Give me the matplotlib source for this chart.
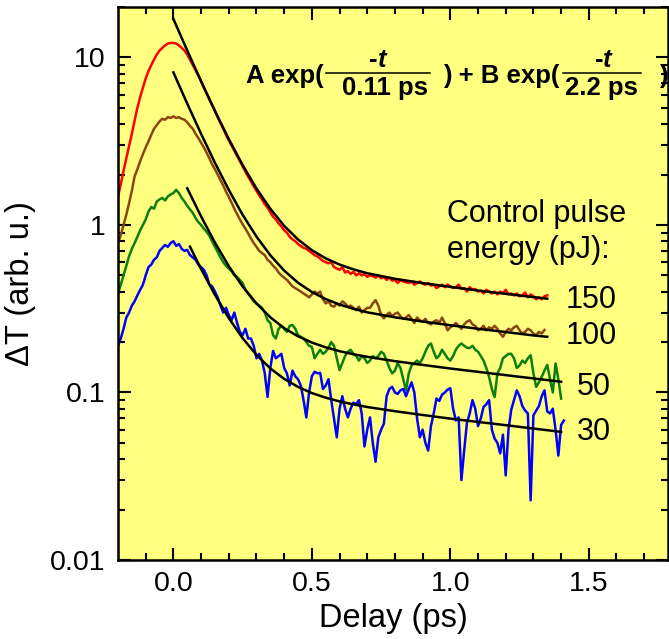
import numpy as np
import matplotlib.pyplot as plt
from matplotlib.lines import Line2D
from matplotlib.ticker import FixedLocator, LogLocator, NullFormatter

plt.rcParams['font.family'] = ['Liberation Sans', 'DejaVu Sans']

# measured traces, sampled every 0.01 ps starting at -0.20 ps
red_150 = [
    1.48, 1.75, 2.1, 2.5, 2.95, 3.5, 4.2, 5.0, 5.8, 6.6, 7.5, 8.3, 9.0, 9.7, 10.4, 11.0, 11.4, 11.8, 12.1, 12.2,
    12.2, 12.1, 11.8, 11.4, 11.0, 10.4, 9.7, 9.0, 8.4, 7.8,
    7.2, 6.6, 6.1, 5.6, 5.2, 4.8, 4.4, 4.05, 3.75, 3.45,
    3.2, 2.98, 2.78, 2.58, 2.40, 2.24, 2.08, 1.94, 1.82, 1.70,
    1.60, 1.50, 1.42, 1.33, 1.27, 1.19, 1.12, 1.08, 1.02, 0.98,
    0.93, 0.90, 0.85, 0.82, 0.80, 0.77, 0.75, 0.73, 0.72, 0.70,
    0.68, 0.66, 0.65, 0.63, 0.61, 0.60, 0.59, 0.60, 0.56, 0.55,
    0.54, 0.56, 0.52, 0.53, 0.51, 0.525, 0.50, 0.515, 0.50, 0.51,
    0.49, 0.50, 0.495, 0.485, 0.50, 0.48, 0.49, 0.47, 0.485, 0.465,
    0.47, 0.45, 0.47, 0.46, 0.455, 0.45, 0.46, 0.44, 0.45, 0.46,
    0.445, 0.44, 0.45, 0.435, 0.44, 0.42, 0.43, 0.44, 0.425, 0.44,
    0.43, 0.42, 0.425, 0.44, 0.415, 0.42, 0.40, 0.425, 0.41, 0.415,
    0.40, 0.405, 0.39, 0.41, 0.40, 0.39, 0.40, 0.385, 0.40, 0.39,
    0.41, 0.385, 0.39, 0.38, 0.39, 0.375, 0.38, 0.395, 0.37, 0.385,
    0.375, 0.36, 0.37, 0.36, 0.375, 0.38,
]
brown_100 = [
    0.78, 0.87, 1.0, 1.15, 1.35, 1.6, 1.95, 2.15, 2.4, 2.65, 2.9, 3.15, 3.45, 3.75, 3.95, 4.15, 4.3, 4.25, 4.4, 4.35,
    4.45, 4.35, 4.4, 4.3, 4.25, 4.1, 3.9, 3.75, 3.5, 3.3,
    3.1, 2.9, 2.7, 2.5, 2.3, 2.15, 2.0, 1.85, 1.72, 1.58,
    1.47, 1.36, 1.25, 1.16, 1.08, 1.01, 0.95, 0.89, 0.83, 0.78,
    0.74, 0.70, 0.68, 0.66, 0.62, 0.60, 0.57, 0.55, 0.52, 0.50,
    0.485, 0.47, 0.45, 0.43, 0.42, 0.41, 0.40, 0.39, 0.38, 0.37,
    0.385, 0.40, 0.39, 0.40, 0.36, 0.34, 0.35, 0.33, 0.325, 0.34,
    0.33, 0.35, 0.34, 0.325, 0.33, 0.32, 0.31, 0.325, 0.30, 0.31,
    0.32, 0.32, 0.34, 0.356, 0.33, 0.29, 0.277, 0.29, 0.30, 0.285,
    0.295, 0.30, 0.285, 0.275, 0.28, 0.29, 0.275, 0.26, 0.28, 0.27,
    0.265, 0.275, 0.26, 0.255, 0.265, 0.27, 0.26, 0.28, 0.26, 0.235,
    0.245, 0.25, 0.26, 0.25, 0.24, 0.255, 0.265, 0.27, 0.255, 0.25,
    0.235, 0.24, 0.25, 0.235, 0.245, 0.24, 0.25, 0.24, 0.225, 0.215,
    0.23, 0.24, 0.235, 0.245, 0.25, 0.235, 0.225, 0.23, 0.24, 0.235,
    0.225, 0.22, 0.23, 0.225, 0.236,
]
green_50 = [
    0.39, 0.44, 0.50, 0.57, 0.65, 0.72, 0.78, 0.85, 0.93, 1.0, 1.08, 1.2, 1.28, 1.25, 1.38, 1.42, 1.45, 1.40, 1.48, 1.52,
    1.55, 1.62, 1.55, 1.45, 1.38, 1.30, 1.24, 1.18, 1.10, 1.04,
    1.00, 0.95, 0.91, 0.86, 0.80, 0.74, 0.69, 0.64, 0.60, 0.57,
    0.55, 0.53, 0.50, 0.49, 0.47, 0.45, 0.41, 0.39, 0.37, 0.35,
    0.34, 0.33, 0.32, 0.30, 0.27, 0.26, 0.22, 0.21, 0.24, 0.25,
    0.24, 0.23, 0.25, 0.253, 0.24, 0.22, 0.215, 0.21, 0.20, 0.19,
    0.187, 0.16, 0.17, 0.18, 0.17, 0.175, 0.185, 0.20, 0.19, 0.16,
    0.136, 0.15, 0.165, 0.175, 0.18, 0.17, 0.165, 0.155, 0.165, 0.16,
    0.15, 0.155, 0.165, 0.16, 0.165, 0.175, 0.17, 0.155, 0.14, 0.13,
    0.135, 0.15, 0.14, 0.12, 0.103, 0.13, 0.145, 0.15, 0.155, 0.15,
    0.16, 0.175, 0.19, 0.196, 0.175, 0.16, 0.166, 0.18, 0.17, 0.16,
    0.155, 0.165, 0.18, 0.19, 0.196, 0.19, 0.185, 0.184, 0.19, 0.18,
    0.175, 0.165, 0.155, 0.14, 0.124, 0.105, 0.094, 0.13, 0.14, 0.16,
    0.165, 0.17, 0.17, 0.16, 0.14, 0.145, 0.155, 0.15, 0.16, 0.167,
    0.13, 0.108, 0.115, 0.124, 0.135, 0.146, 0.12, 0.10, 0.149, 0.12,
    0.092,
]
blue_30 = [
    0.19, 0.21, 0.24, 0.28, 0.30, 0.33, 0.35, 0.38, 0.41, 0.44, 0.50, 0.56, 0.58, 0.62, 0.64, 0.70, 0.73, 0.76, 0.74, 0.78,
    0.80, 0.75, 0.77, 0.72, 0.70, 0.71, 0.66, 0.64, 0.62, 0.58,
    0.56, 0.54, 0.50, 0.44, 0.43, 0.40, 0.37, 0.33, 0.30, 0.32,
    0.29, 0.27, 0.30, 0.26, 0.23, 0.22, 0.24, 0.21, 0.21, 0.19,
    0.16, 0.17, 0.155, 0.13, 0.094, 0.14, 0.177, 0.16, 0.165, 0.17,
    0.14, 0.13, 0.11, 0.135, 0.125, 0.12, 0.11, 0.09, 0.071, 0.10,
    0.125, 0.133, 0.13, 0.131, 0.105, 0.11, 0.12, 0.09, 0.07, 0.054,
    0.08, 0.095, 0.08, 0.071, 0.08, 0.087, 0.085, 0.09, 0.075, 0.0476,
    0.06, 0.071, 0.05, 0.0386, 0.054, 0.06, 0.065, 0.095, 0.105, 0.108,
    0.10, 0.098, 0.103, 0.105, 0.095, 0.105, 0.115, 0.10, 0.07, 0.054,
    0.06, 0.05, 0.045, 0.063, 0.075, 0.092, 0.089, 0.097, 0.10, 0.104,
    0.106, 0.08, 0.068, 0.071, 0.03, 0.045, 0.066, 0.075, 0.09, 0.08,
    0.063, 0.07, 0.082, 0.085, 0.09, 0.06, 0.053, 0.05, 0.0433, 0.056,
    0.032, 0.06, 0.079, 0.09, 0.103, 0.095, 0.083, 0.078, 0.075, 0.0227,
    0.073, 0.078, 0.083, 0.095, 0.103, 0.077, 0.075, 0.08, 0.06, 0.042,
    0.064, 0.068,
]

# biexponential fits
fit_t_hi = [0.0, 0.05, 0.1, 0.15, 0.2, 0.25, 0.3, 0.35, 0.4, 0.45, 0.5, 0.55, 0.6, 0.65, 0.7,
            0.8, 0.9, 1.0, 1.1, 1.2, 1.3, 1.35]
fit_red = [16.97, 11.0, 7.21, 4.79, 3.26, 2.28, 1.65, 1.25, 0.988, 0.819, 0.707, 0.632, 0.580, 0.543, 0.515,
           0.477, 0.450, 0.427, 0.406, 0.388, 0.371, 0.363]
fit_brown = [8.14, 5.30, 3.50, 2.35, 1.62, 1.15, 0.852, 0.659, 0.534, 0.452, 0.398, 0.361, 0.335, 0.316, 0.301,
             0.281, 0.265, 0.252, 0.240, 0.2295, 0.219, 0.215]
fit_t_green = [0.05, 0.1, 0.15, 0.2, 0.25, 0.3, 0.35, 0.4, 0.45, 0.5, 0.55, 0.6, 0.65, 0.7,
               0.8, 0.9, 1.0, 1.1, 1.2, 1.3, 1.4]
fit_green = [1.655, 1.124, 0.785, 0.568, 0.429, 0.340, 0.281, 0.242, 0.2165, 0.1986, 0.186, 0.1764, 0.1692, 0.1632,
             0.1538, 0.1461, 0.139, 0.1328, 0.1269, 0.1213, 0.1159]
fit_t_blue = [0.06, 0.1, 0.15, 0.2, 0.25, 0.3, 0.35, 0.4, 0.45, 0.5, 0.55, 0.6, 0.65, 0.7,
              0.8, 0.9, 1.0, 1.1, 1.2, 1.3, 1.4]
fit_blue = [0.742, 0.546, 0.383, 0.278, 0.211, 0.1676, 0.1392, 0.1206, 0.108, 0.0992, 0.0931, 0.0884, 0.0849, 0.0819,
            0.0773, 0.0734, 0.0698, 0.0667, 0.0638, 0.0609, 0.0582]

energies = ["150", "100", "50", "30"]
colors = ["#ff0000", "#8b4513", "#0a800a", "#0000ff"]

W, H = 669, 639
fig = plt.figure(figsize=(W / 100, H / 100), dpi=100)
ax = fig.add_axes([118 / W, 1 - 560 / H, (668 - 118) / W, (560 - 7) / H])
ax.set_facecolor("#ffff80")

for vals, c in zip([red_150, brown_100, green_50, blue_30], colors):
    t = -0.2 + 0.01 * np.arange(len(vals))
    ax.plot(t, vals, color=c, lw=1.8)

ax.plot(fit_t_hi, fit_red, color="k", lw=1.8)
ax.plot(fit_t_hi, fit_brown, color="k", lw=1.8)
ax.plot(fit_t_green, fit_green, color="k", lw=1.8)
ax.plot(fit_t_blue, fit_blue, color="k", lw=1.8)

ax.set_yscale("log")
ax.set_xlim(-0.2, 1.786)
ax.set_ylim(0.01, 20)
ax.xaxis.set_major_locator(FixedLocator([0.0, 0.5, 1.0, 1.5]))
ax.xaxis.set_minor_locator(FixedLocator(np.arange(-0.1, 1.75, 0.1)))
ax.set_xticklabels(["0.0", "0.5", "1.0", "1.5"])
ax.yaxis.set_major_locator(FixedLocator([0.01, 0.1, 1, 10]))
ax.yaxis.set_minor_locator(LogLocator(base=10, subs=np.arange(2, 10)))
ax.yaxis.set_minor_formatter(NullFormatter())
ax.set_yticklabels(["0.01", "0.1", "1", "10"])
ax.tick_params(which="both", direction="in", top=True, right=True, width=1.5, labelsize=20.5)
ax.tick_params(which="major", length=9)
ax.tick_params(which="minor", length=5)
ax.tick_params(axis="y", pad=9)
ax.tick_params(axis="x", pad=8)
for s in ax.spines.values():
    s.set_linewidth(1.8)

ax.set_xlabel("Delay (ps)", fontsize=23.5, labelpad=4)
ax.set_ylabel("ΔT (arb. u.)", fontsize=23.5, labelpad=10)


def ftext(x, y, s, **kw):
    fig.text(x / W, 1 - y / H, s, va="baseline", **kw)


def fline(x0, x1, y):
    fig.add_artist(Line2D([x0 / W, x1 / W], [1 - y / H, 1 - y / H], color="k", lw=1.1))


bold = dict(fontsize=18.5, fontweight="bold")
ital = dict(fontsize=18.5, fontweight="bold", style="italic")
ftext(246, 83, "A exp(", **bold)
fline(326, 430, 73)
ftext(378, 67, "-", ha="right", **bold)
ftext(378, 67, "t", ha="left", **ital)
ftext(385, 95, "0.11 ps", ha="center", **bold)
ftext(443, 83, ") + B exp(", **bold)
fline(563, 641, 73)
ftext(603, 67, "-", ha="right", **bold)
ftext(603, 67, "t", ha="left", **ital)
ftext(601, 95, "2.2 ps", ha="center", **bold)
ftext(659, 83, ")", **bold)

ftext(447, 222, "Control pulse", fontsize=22)
ftext(447, 258, "energy (pJ):", fontsize=22)
for lab, x, y in zip(energies, [566, 566, 577, 577], [308, 344, 395, 440]):
    ftext(x, y, lab, fontsize=22)

fig.savefig("out.png", dpi=100)
